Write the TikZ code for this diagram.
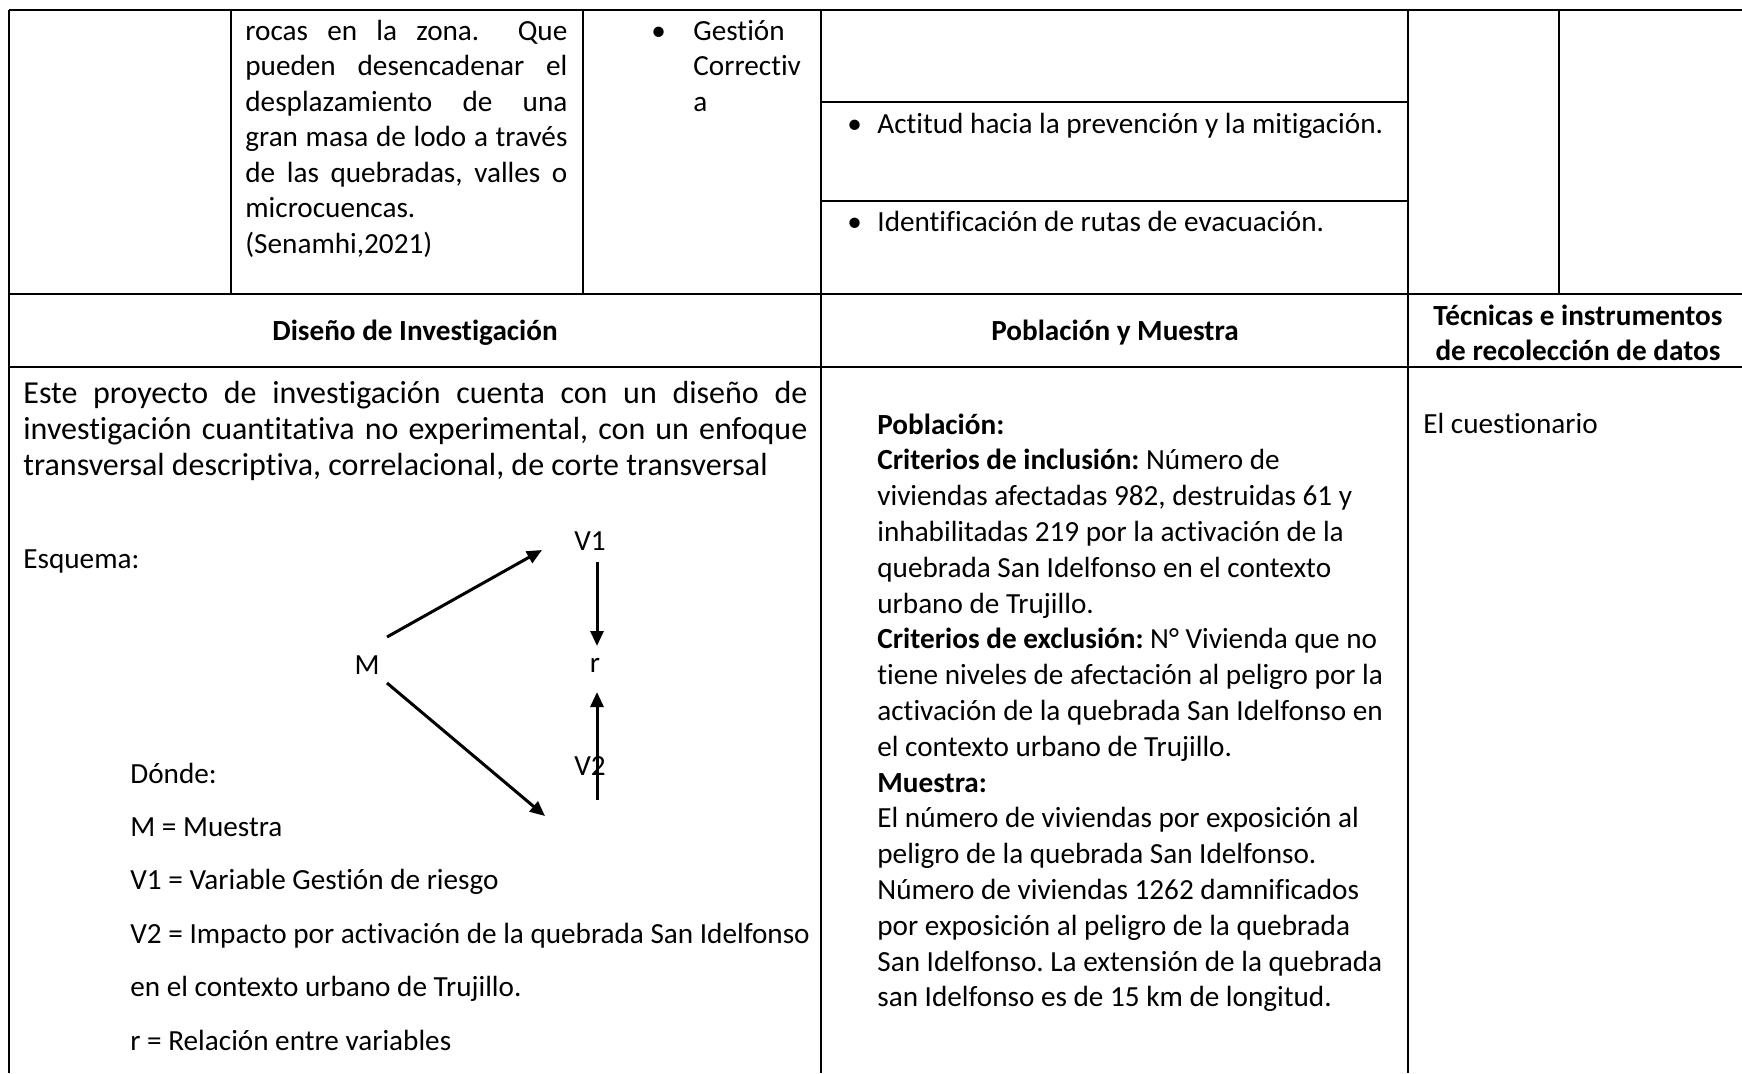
\documentclass[tikz,border=0pt]{standalone}
\usepackage{fontspec}
\setmainfont{Carlito}[Ligatures=NoCommon]
\frenchspacing
\usetikzlibrary{positioning, arrows.meta}

\begin{document}
\begin{tikzpicture}[x=0.5pt, y=-0.5pt,
    rule/.style = {line width=1pt},
    txt/.style = {anchor=base west, inner sep=0pt, yshift=-1.5pt, font=\fontsize{14.6}{17.5}\selectfont},
    big/.style = {anchor=base west, inner sep=0pt, yshift=-1.5pt, font=\fontsize{16}{19}\selectfont},
    head/.style = {inner sep=0pt, align=center, yshift=-1.5pt, font=\fontsize{14.6}{17.5}\selectfont\bfseries},
    var/.style = {inner sep=0pt, font=\fontsize{14.6}{17.5}\selectfont},
    link/.style = {line width=1.5pt, -{Triangle[length=7.5pt, width=6.5pt]}}]
    \useasboundingbox (0,0) rectangle (1742,1073);
    \fill[white] (0,0) rectangle (1742,1073);
    % table
    \draw[rule] (9,10) -- (1742,10);
    \draw[rule] (9,294) -- (1742,294);
    \draw[rule] (9,367) -- (1742,367);
    \draw[rule] (821,102) -- (1408,102);
    \draw[rule] (821,201) -- (1408,201);
    \draw[rule] (9,10) -- (9,1073);
    \foreach \x in {231, 583, 1559}
        \draw[rule] (\x,10) -- (\x,294);
    \foreach \x in {821, 1408}
        \draw[rule] (\x,10) -- (\x,1073);
    % first row
    \foreach \t [count=\i from 0] in {{rocas en la zona.\ \ Que}, {pueden desencadenar el},
        {desplazamiento de una}, {gran masa de lodo a través}, {de las quebradas, valles o}}
        \node[txt] (def\i) at (245, 37+35.5*\i) {\makebox[161pt][s]{\t}};
    \node[txt] (def5) at (245, 214.5) {microcuencas.};
    \node[txt] (def6) at (245, 250) {(Senamhi,2021)};
    \node[txt] (dot1) at (651, 37) {\textbullet};
    \node[txt] (ges0) at (693, 37) {Gestión};
    \node[txt] (ges1) at (693, 72.5) {Correctiv};
    \node[txt] (ges2) at (693, 108) {a};
    \node[txt] (dot2) at (847, 130) {\textbullet};
    \node[txt] (act) at (877, 130) {Actitud hacia la prevención y la mitigación.};
    \node[txt] (dot3) at (847, 228) {\textbullet};
    \node[txt] (rut) at (877, 228) {Identificación de rutas de evacuación.};
    % headers
    \node[head] (dis) at (415, 330) {Diseño de Investigación};
    \node[head] (pob) at (1115, 330) {Población y Muestra};
    \node[head] (tec) at (1578, 330) {Técnicas e instrumentos\\de recolección de datos};
    % design
    \node[big] (par0) at (23, 400) {\makebox[392pt][s]{Este proyecto de investigación cuenta con un diseño de}};
    \node[big] (par1) at (23, 436) {\makebox[392pt][s]{investigación cuantitativa no experimental, con un enfoque}};
    \node[big] (par2) at (23, 472) {transversal descriptiva, correlacional, de corte transversal};
    \node[txt] (esq) at (23, 565) {Esquema:};
    \node[var] (V1) at (590, 541) {V1};
    \node[var] (M) at (367, 665) {M};
    \node[var] (r) at (595, 665) {r};
    \node[var] (V2) at (590, 766) {V2};
    \draw[link] ([shift={(20,-28)}]M.center) -- ([shift={(-48,9)}]V1.center);
    \draw[link] ([shift={(7,21)}]V1.center) -- ([shift={(2,-19)}]r.center);
    \draw[link] ([shift={(20,18)}]M.center) -- ([shift={(-45,50)}]V2.center);
    \draw[link] ([shift={(7,34)}]V2.center) -- ([shift={(2,27)}]r.center);
    \foreach \t [count=\i from 0] in {Dónde:, M = Muestra, V1 = Variable Gestión de riesgo,
        V2 = Impacto por activación de la quebrada San Idelfonso,
        en el contexto urbano de Trujillo., r = Relación entre variables}
        \node[txt] (leg\i) at (130, 780+53.4*\i) {\t};
    % population
    \foreach \t [count=\i from 0] in {{\textbf{Población:}},
        {\textbf{Criterios de inclusión:} Número de},
        {viviendas afectadas 982, destruidas 61 y},
        {inhabilitadas 219 por la activación de la},
        {quebrada San Idelfonso en el contexto},
        {urbano de Trujillo.},
        {\textbf{Criterios de exclusión:} N° Vivienda que no},
        {tiene niveles de afectación al peligro por la},
        {activación de la quebrada San Idelfonso en},
        {el contexto urbano de Trujillo.},
        {\textbf{Muestra:}},
        {El número de viviendas por exposición al},
        {peligro de la quebrada San Idelfonso.},
        {Número de viviendas 1262 damnificados},
        {por exposición al peligro de la quebrada},
        {San Idelfonso. La extensión de la quebrada},
        {san Idelfonso es de 15 km de longitud.}}
        \node[txt] (pm\i) at (877, 431+35.8*\i) {\t};
    % instruments
    \node[txt] (cue) at (1423, 430) {El cuestionario};
\end{tikzpicture}
\end{document}
